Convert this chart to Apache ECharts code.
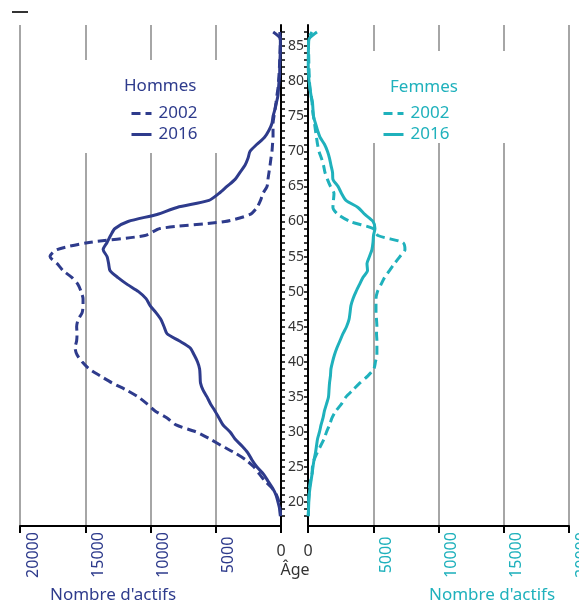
<!DOCTYPE html>
<html>
<head>
<meta charset="utf-8">
<script src="https://cdn.jsdelivr.net/npm/echarts@6/dist/echarts.min.js"></script>
<style>html,body{margin:0;padding:0;background:#fff}#c{width:579px;height:605px}</style>
</head>
<body>
<div id="c"></div>
<script>
// Ages 18 .. 87
const ages = [18,19,20,21,22,23,24,25,26,27,28,29,30,31,32,33,34,35,36,37,38,39,40,41,42,43,44,45,46,47,48,49,50,51,52,53,54,55,56,57,58,59,60,61,62,63,64,65,66,67,68,69,70,71,72,73,74,75,76,77,78,79,80,81,82,83,84,85,86,87];
const hommes2002 = [30,80,150,340,690,1230,1650,2070,2680,3520,4520,5440,6510,8040,8730,9650,10260,10950,11870,12950,13860,14710,15240,15630,15780,15660,15630,15660,15550,15240,15170,15170,15320,15550,16010,16700,17160,17700,17160,14710,10420,9270,4290,2370,1840,1570,1380,1070,1000,920,840,770,690,650,610,610,610,540,460,380,310,230,190,150,120,100,80,60,60,100];
const hommes2016 = [50,100,230,380,650,1000,1340,1840,2220,2530,2990,3520,3900,4440,4750,5060,5400,5670,5980,6170,6200,6240,6400,6660,6970,7810,8730,8960,9190,9580,10030,10340,10920,11760,12490,13100,13210,13330,13630,13330,13060,12720,11720,9500,7970,5520,4750,4140,3520,3140,2760,2530,2370,1840,1260,920,690,610,460,340,230,190,150,100,100,80,60,50,50,600];
const femmes2002 = [20,40,40,80,110,190,310,340,460,690,960,1230,1420,1650,1840,2140,2570,2910,3450,3980,4590,5050,5170,5280,5280,5280,5250,5280,5250,5210,5210,5210,5320,5590,5860,6240,6620,7040,7430,7270,5360,4980,3220,2300,1910,1950,1990,1720,1490,1300,1190,1030,840,730,650,570,500,420,340,310,230,150,110,90,70,60,50,40,40,300];
const femmes2016 = [20,40,60,90,150,230,310,380,460,570,650,730,880,1000,1150,1260,1420,1570,1610,1650,1720,1760,1880,2030,2220,2450,2680,2950,3140,3220,3290,3450,3680,3940,4210,4560,4520,4710,4900,4980,5020,5130,4980,4360,3830,2910,2570,2300,1910,1880,1760,1650,1490,1260,920,730,570,420,380,340,230,150,80,40,20,20,30,40,80,690];
const ageLabels = [20,25,30,35,40,45,50,55,60,65,70,75,80,85];

const NAVY = '#2e3b8c';
const TEAL = '#1fb1bc';
const FONT = 'Noto Sans';

function pairs(vals){ return vals.map((v,i)=>[v, ages[i]]); }

const chart = echarts.init(document.getElementById('c'), null, {renderer:'canvas'});

function valueXAxis(grid, inverse, color, namePad){
  return {
    type:'value', gridIndex:grid, inverse:inverse, min:0, max:20000, interval:5000,
    axisLine:{show:true, onZero:false, lineStyle:{color:'#000', width:2}},
    axisTick:{show:true, length:7, lineStyle:{color:'#000', width:2}},
    splitLine:{show:true, lineStyle:{color:'#a6a6a6', width:2}},
    axisLabel:{rotate:90, align:'center', verticalAlign:'top', lineHeight:26, margin:29,
      color:color, fontSize:16, fontFamily:FONT, formatter:v=> v===0 ? '' : String(v)},
    name:"Nombre d'actifs", nameLocation:'middle', nameGap:61,
    nameTextStyle:{color:color, fontSize:17, fontFamily:FONT, padding:namePad}
  };
}
function zeroXAxis(grid, inverse){
  return {
    type:'value', gridIndex:grid, inverse:inverse, min:0, max:20000, position:'bottom',
    axisLine:{show:false}, axisTick:{show:false}, splitLine:{show:false},
    axisLabel:{customValues:[0], color:'#333', fontSize:16, fontFamily:FONT, margin:17}
  };
}
const tickAges = ages.slice();
function yAx(grid, pos, showLabel){
  return {
    type:'value', gridIndex:grid, position:pos, min:16.6, max:88,
    axisLine:{show:true, onZero:false, lineStyle:{color:'#000', width:2}},
    axisTick:{show:true, inside:false, length:4, customValues:tickAges, lineStyle:{color:'#000', width:1.5}},
    splitLine:{show:false},
    axisLabel:{show:showLabel, customValues:ageLabels, color:'#333', fontSize:14, fontFamily:FONT, margin:7}
  };
}
function line(name, xi, yi, vals, color, dashed){
  return {
    type:'line', name:name, xAxisIndex:xi, yAxisIndex:yi, data:pairs(vals),
    symbol:'none', smooth:0.25, animation:false,
    lineStyle:{color:color, width:3, type: dashed ? [9,5] : 'solid', cap:'butt'},
    itemStyle:{color:color}
  };
}

chart.setOption({
  animation:false,
  backgroundColor:'#fff',
  textStyle:{fontFamily:FONT},
  grid:[
    {left:20, width:261, top:25, bottom:79, outerBoundsMode:'none', containLabel:false},
    {left:308, width:261, top:25, bottom:79, outerBoundsMode:'none', containLabel:false}
  ],
  xAxis:[
    valueXAxis(0, true, NAVY, [0,75,0,0]),
    valueXAxis(1, false, TEAL, [0,0,0,107]),
    zeroXAxis(0, true),
    zeroXAxis(1, false)
  ],
  yAxis:[ yAx(0,'right',true), yAx(1,'left',false) ],
  title:[
    {text:'Hommes', left:124, top:78, padding:0, textStyle:{color:NAVY, fontSize:17, fontWeight:'normal', fontFamily:FONT}},
    {text:'Femmes', left:390, top:79, padding:0, textStyle:{color:TEAL, fontSize:17, fontWeight:'normal', fontFamily:FONT}}
  ],
  legend:[
    {data:['H2002','H2016'], orient:'vertical', left:130, top:105, padding:0, itemWidth:20, itemHeight:14, itemGap:4,
     selectedMode:false, formatter:n=>n.slice(1), itemStyle:{opacity:0}, lineStyle:{width:3},
     textStyle:{color:NAVY, fontSize:17, fontFamily:FONT, padding:[0,0,0,2]}},
    {data:['F2002','F2016'], orient:'vertical', left:382, top:105, padding:0, itemWidth:20, itemHeight:14, itemGap:4,
     selectedMode:false, formatter:n=>n.slice(1), itemStyle:{opacity:0}, lineStyle:{width:3},
     textStyle:{color:TEAL, fontSize:17, fontFamily:FONT, padding:[0,0,0,2]}}
  ],
  graphic:[
    {type:'rect', z:1, shape:{x:60, y:60, width:175, height:93}, style:{fill:'#fff'}},
    {type:'rect', z:1, shape:{x:345, y:51, width:190, height:92}, style:{fill:'#fff'}},
    {type:'line', z:1, shape:{x1:12, y1:12, x2:28, y2:12}, style:{stroke:'#333', lineWidth:2}},
    {type:'text', z:5, x:295, y:570, style:{text:'Âge', fontSize:16, fontFamily:FONT, fill:'#333', align:'center', verticalAlign:'middle'}}
  ],
  series:[
    line('H2002', 0, 0, hommes2002, NAVY, true),
    line('H2016', 0, 0, hommes2016, NAVY, false),
    line('F2002', 1, 1, femmes2002, TEAL, true),
    line('F2016', 1, 1, femmes2016, TEAL, false)
  ]
});
</script>
</body>
</html>
